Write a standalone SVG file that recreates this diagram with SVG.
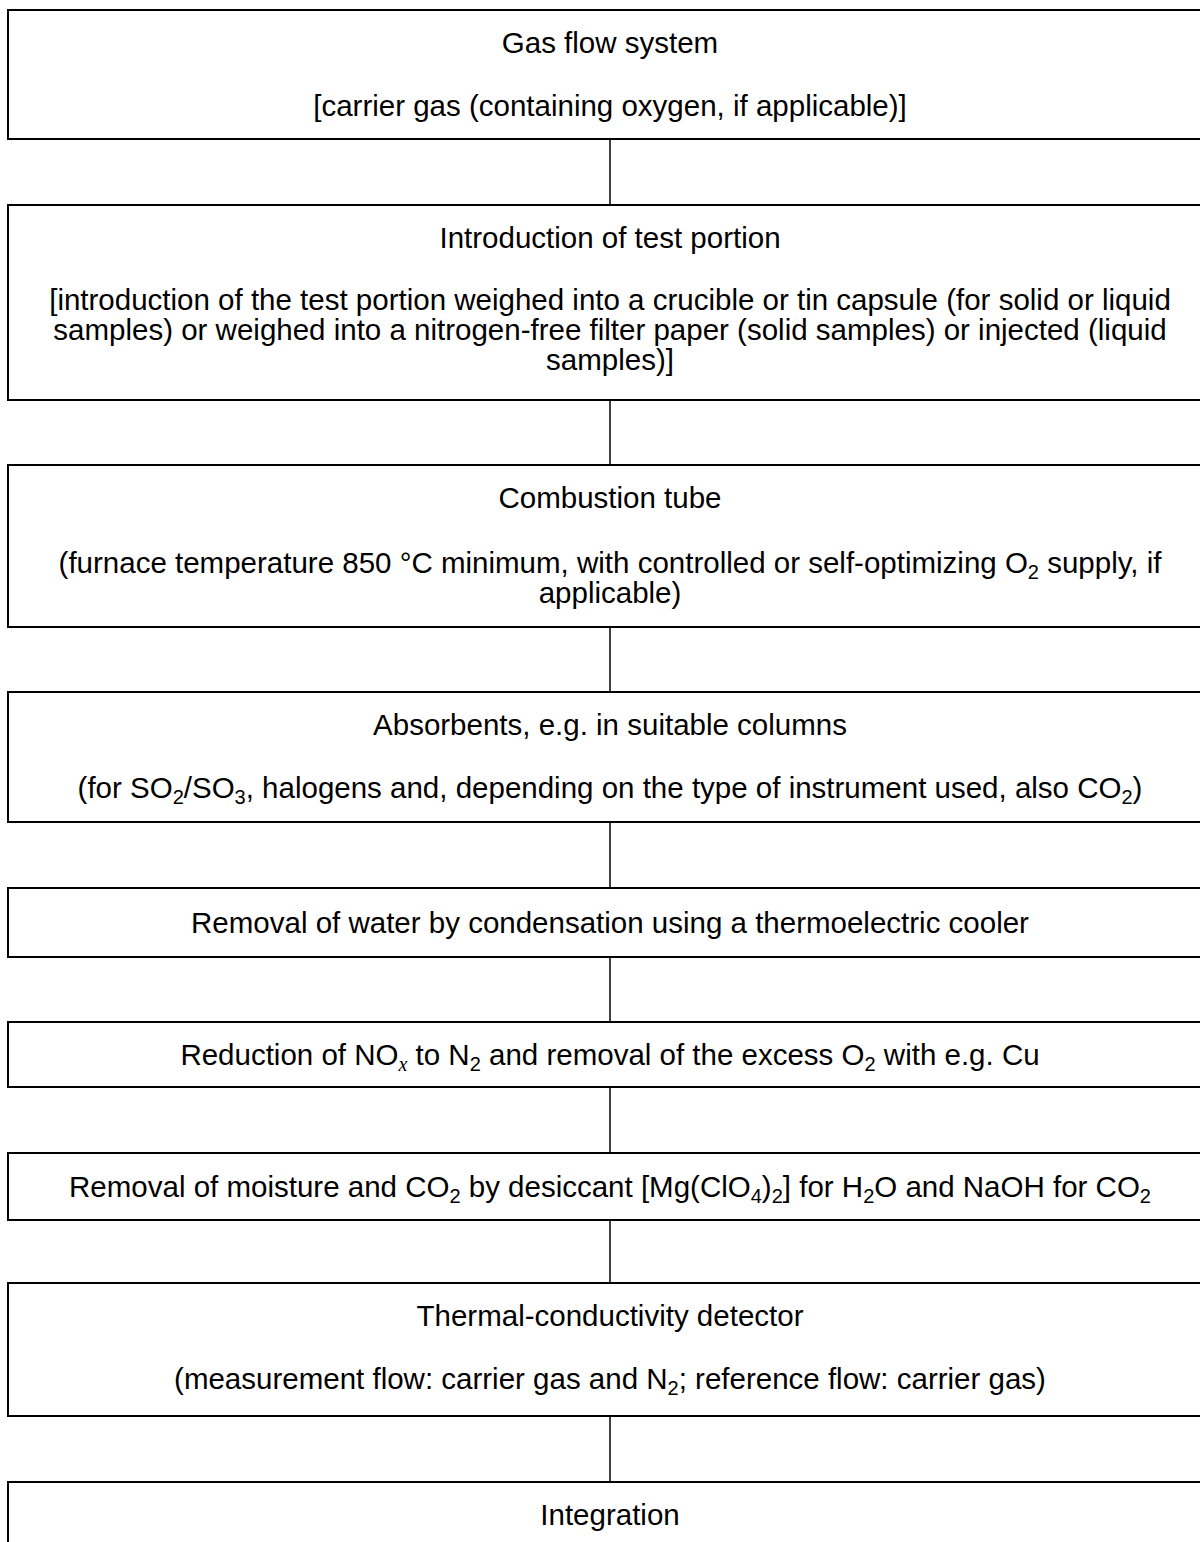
<svg xmlns="http://www.w3.org/2000/svg" width="1200" height="1542" viewBox="0 0 1200 1542">
<style>
.box{fill:#fff;stroke:#000;stroke-width:2}
.con{stroke:#000;stroke-width:1.5;fill:none}
text{font-family:"Liberation Sans",Arial,sans-serif;font-size:29.5px;fill:#000;text-anchor:middle}
.s{font-size:20px}
.i{font-family:"Liberation Serif","Times New Roman",serif;font-style:italic}
</style>
<rect width="1200" height="1542" fill="#fff"/>
<g id="connectors">
<line class="con" x1="610" y1="139" x2="610" y2="205"/>
<line class="con" x1="610" y1="400" x2="610" y2="465"/>
<line class="con" x1="610" y1="627" x2="610" y2="692"/>
<line class="con" x1="610" y1="822" x2="610" y2="888"/>
<line class="con" x1="610" y1="957" x2="610" y2="1022"/>
<line class="con" x1="610" y1="1087" x2="610" y2="1153"/>
<line class="con" x1="610" y1="1220" x2="610" y2="1283"/>
<line class="con" x1="610" y1="1416" x2="610" y2="1482"/>
</g>
<g id="n1">
<rect class="box" x="8" y="10" width="1210" height="129"/>
<text x="610" y="53">Gas flow system</text>
<text x="610" y="116">[carrier gas (containing oxygen, if applicable)]</text>
</g>
<g id="n2">
<rect class="box" x="8" y="205" width="1210" height="195"/>
<text x="610" y="248">Introduction of test portion</text>
<text x="610" y="310">[introduction of the test portion weighed into a crucible or tin capsule (for solid or liquid</text>
<text x="610" y="340">samples) or weighed into a nitrogen-free filter paper (solid samples) or injected (liquid</text>
<text x="610" y="370">samples)]</text>
</g>
<g id="n3">
<rect class="box" x="8" y="465" width="1210" height="162"/>
<text x="610" y="508">Combustion tube</text>
<text x="610" y="573">(furnace temperature 850 °C minimum, with controlled or self-optimizing O<tspan class="s" dy="6">2</tspan><tspan dy="-6"> supply, if</tspan></text>
<text x="610" y="603">applicable)</text>
</g>
<g id="n4">
<rect class="box" x="8" y="692" width="1210" height="130"/>
<text x="610" y="735">Absorbents, e.g. in suitable columns</text>
<text x="610" y="798">(for SO<tspan class="s" dy="6">2</tspan><tspan dy="-6">/SO</tspan><tspan class="s" dy="6">3</tspan><tspan dy="-6">, halogens and, depending on the type of instrument used, also CO</tspan><tspan class="s" dy="6">2</tspan><tspan dy="-6">)</tspan></text>
</g>
<g id="n5">
<rect class="box" x="8" y="888" width="1210" height="69"/>
<text x="610" y="933">Removal of water by condensation using a thermoelectric cooler</text>
</g>
<g id="n6">
<rect class="box" x="8" y="1022" width="1210" height="65"/>
<text x="610" y="1065">Reduction of NO<tspan class="s i" dy="6">x</tspan><tspan dy="-6"> to N</tspan><tspan class="s" dy="6">2</tspan><tspan dy="-6"> and removal of the excess O</tspan><tspan class="s" dy="6">2</tspan><tspan dy="-6"> with e.g. Cu</tspan></text>
</g>
<g id="n7">
<rect class="box" x="8" y="1153" width="1210" height="67"/>
<text x="610" y="1197">Removal of moisture and CO<tspan class="s" dy="6">2</tspan><tspan dy="-6"> by desiccant [Mg(ClO</tspan><tspan class="s" dy="6">4</tspan><tspan dy="-6">)</tspan><tspan class="s" dy="6">2</tspan><tspan dy="-6">] for H</tspan><tspan class="s" dy="6">2</tspan><tspan dy="-6">O and NaOH for CO</tspan><tspan class="s" dy="6">2</tspan></text>
</g>
<g id="n8">
<rect class="box" x="8" y="1283" width="1210" height="133"/>
<text x="610" y="1326">Thermal-conductivity detector</text>
<text x="610" y="1389">(measurement flow: carrier gas and N<tspan class="s" dy="6">2</tspan><tspan dy="-6">; reference flow: carrier gas)</tspan></text>
</g>
<g id="n9">
<rect class="box" x="8" y="1482" width="1210" height="100"/>
<text x="610" y="1525">Integration</text>
</g>
</svg>
